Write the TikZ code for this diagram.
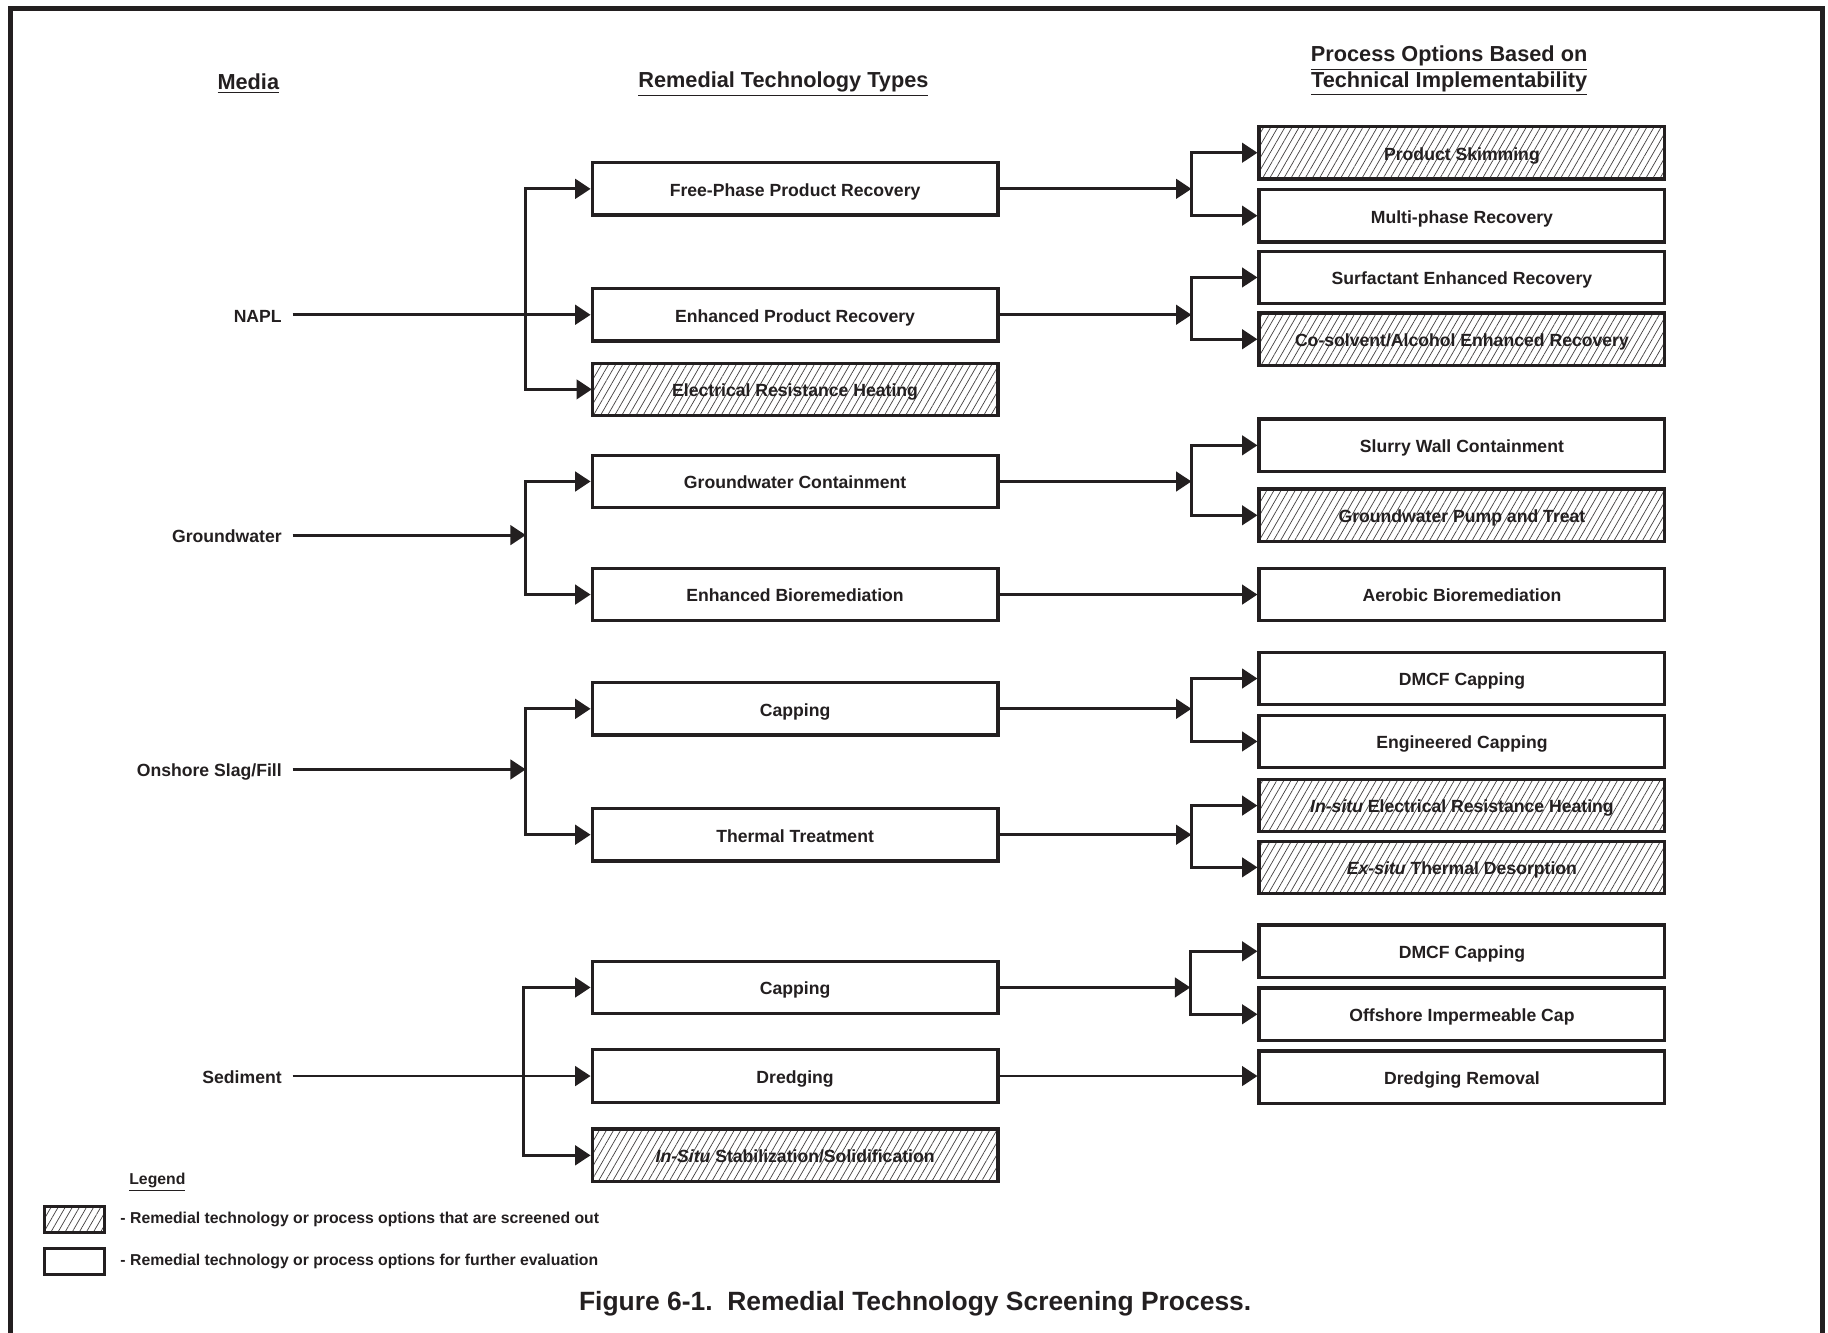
\documentclass[tikz,border=0pt]{standalone}
\usepackage{fontspec}
\setmainfont{Liberation Sans}
\usetikzlibrary{arrows.meta,patterns.meta}
\definecolor{ink}{RGB}{35,31,32}
\tikzset{
  optbox/.style={draw=ink, line width=1.6pt, minimum width=6.96cm, minimum height=0.9cm,
    inner sep=0pt, text height=0.8em, text depth=0.08em, text=ink, font=\bfseries\fontsize{8.6}{10}\selectfont},
  keep/.style={optbox, fill=white},
  cut/.style={optbox, pattern={Lines[angle=60,distance=3pt,line width=0.35pt]}, pattern color=ink!85},
  arr/.style={draw=ink, line width=1.4pt, -{Triangle[length=7.5pt,width=9.5pt]}},
  media/.style={anchor=east, inner xsep=0.18cm, inner ysep=0pt, text height=0.8em, text depth=0.08em,
    text=ink, font=\bfseries\fontsize{8.6}{10}\selectfont},
  head/.style={text=ink, align=center, font=\bfseries\fontsize{10.6}{12.5}\selectfont},
  legtext/.style={anchor=west, inner sep=0pt, text=ink, font=\bfseries\fontsize{7.7}{9}\selectfont},
  legbox/.style={draw=ink, line width=1.5pt, minimum width=1.04cm, minimum height=0.44cm, inner sep=0pt}
}
\begin{document}
\begin{tikzpicture}[x=0.2mm, y=-0.2mm]
\useasboundingbox (0,0) rectangle (1568,1143);
\draw[ink, line width=0.09cm] (9,1150) -- (9,7) -- (1563,7) -- (1563,1150);

% headings
\node[head] (hmedia) at (213,72) {\underline{Media}};
\node[head] (htypes) at (672,72) {\underline{Remedial Technology Types}};
\node[head] (hopts) at (1243,61) {\underline{Process Options Based on}\\\underline{Technical Implementability}};

% media
\node[media] (napl) at (251,270) {NAPL};
\node[media] (gw) at (251,459) {Groundwater};
\node[media] (slag) at (251,660) {Onshore Slag/Fill};
\node[media] (sed) at (251,923) {Sediment};

% technology types
\node[keep] (fpr) at (682,162) {Free-Phase Product Recovery};
\node[keep] (epr) at (682,270) {Enhanced Product Recovery};
\node[cut] (erh) at (682,334) {Electrical Resistance Heating};
\node[keep] (gwc) at (682,413) {Groundwater Containment};
\node[keep] (ebr) at (682,510) {Enhanced Bioremediation};
\node[keep] (cap) at (682,608) {Capping};
\node[keep] (thr) at (682,716) {Thermal Treatment};
\node[keep] (scap) at (682,847) {Capping};
\node[keep] (dred) at (682,923) {Dredging};
\node[cut] (iss) at (682,991) {\itshape In-Situ\upshape{} Stabilization/Solidification};

% process options
\node[cut] (skim) at (1254,131) {Product Skimming};
\node[keep] (mpr) at (1254,185) {Multi-phase Recovery};
\node[keep] (ser) at (1254,238) {Surfactant Enhanced Recovery};
\node[cut] (csr) at (1254,291) {Co-solvent/Alcohol Enhanced Recovery};
\node[keep] (swc) at (1254,382) {Slurry Wall Containment};
\node[cut] (gpt) at (1254,442) {Groundwater Pump and Treat};
\node[keep] (aer) at (1254,510) {Aerobic Bioremediation};
\node[keep] (dmcfa) at (1254,582) {DMCF Capping};
\node[keep] (engc) at (1254,636) {Engineered Capping};
\node[cut] (ierh) at (1254,691) {\itshape In-situ\upshape{} Electrical Resistance Heating};
\node[cut] (etd) at (1254,744) {\itshape Ex-situ\upshape{} Thermal Desorption};
\node[keep] (dmcfb) at (1254,816) {DMCF Capping};
\node[keep] (oic) at (1254,870) {Offshore Impermeable Cap};
\node[keep] (drr) at (1254,924) {Dredging Removal};

% branch points
\coordinate (jn) at (451,270);
\coordinate (jg) at (451,459);
\coordinate (js) at (451,660);
\coordinate (jd) at (449,923);
\coordinate (r1) at (1022,162);
\coordinate (r2) at (1022,270);
\coordinate (r3) at (1022,413);
\coordinate (r4) at (1022,608);
\coordinate (r5) at (1022,716);
\coordinate (r6) at (1021,847);

% media to technology types
\draw[arr] (napl.east) -- (epr.west);
\draw[arr] (jn) |- (fpr.west);
\draw[arr] (jn) |- (erh.west);
\draw[arr] (gw.east) -- (jg);
\draw[arr] (jg) |- (gwc.west);
\draw[arr] (jg) |- (ebr.west);
\draw[arr] (slag.east) -- (js);
\draw[arr] (js) |- (cap.west);
\draw[arr] (js) |- (thr.west);
\draw[arr] (sed.east) -- (dred.west);
\draw[arr] (jd) |- (scap.west);
\draw[arr] (jd) |- (iss.west);

% technology types to process options
\draw[arr] (fpr.east) -- (r1);
\draw[arr] (r1) |- (skim.west);
\draw[arr] (r1) |- (mpr.west);
\draw[arr] (epr.east) -- (r2);
\draw[arr] (r2) |- (ser.west);
\draw[arr] (r2) |- (csr.west);
\draw[arr] (gwc.east) -- (r3);
\draw[arr] (r3) |- (swc.west);
\draw[arr] (r3) |- (gpt.west);
\draw[arr] (ebr.east) -- (aer.west);
\draw[arr] (cap.east) -- (r4);
\draw[arr] (r4) |- (dmcfa.west);
\draw[arr] (r4) |- (engc.west);
\draw[arr] (thr.east) -- (r5);
\draw[arr] (r5) |- (ierh.west);
\draw[arr] (r5) |- (etd.west);
\draw[arr] (scap.east) -- (r6);
\draw[arr] (r6) |- (dmcfb.west);
\draw[arr] (r6) |- (oic.west);
\draw[arr] (dred.east) -- (dred.east -| drr.west);

% legend
\node[legtext, anchor=center] (leg) at (135,1014) {\underline{Legend}};
\node[legbox, pattern={Lines[angle=60,distance=3pt,line width=0.35pt]}, pattern color=ink!85] (legcut) at (64,1046) {};
\node[legtext] (legcuttxt) at (103,1046) {- Remedial technology or process options that are screened out};
\node[legbox, fill=white] (legkeep) at (64,1082) {};
\node[legtext] (legkeeptxt) at (103,1082) {- Remedial technology or process options for further evaluation};

\node[text=ink, font=\bfseries\fontsize{12.9}{15}\selectfont] (caption) at (785,1118) {Figure 6-1.\ \ Remedial Technology Screening Process.};
\end{tikzpicture}
\end{document}
